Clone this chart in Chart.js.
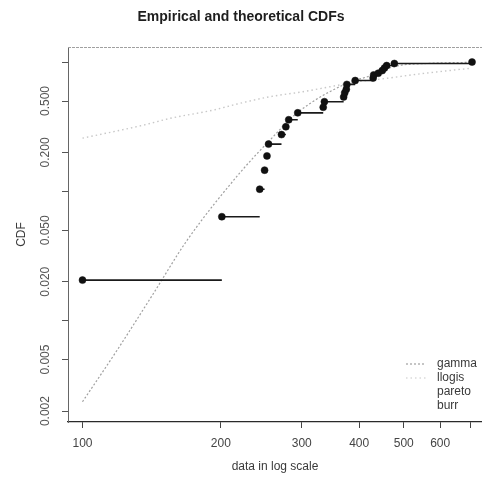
<!DOCTYPE html>
<html>
<head>
<meta charset="utf-8">
<script src="https://cdn.jsdelivr.net/npm/chart.js@4.4.1/dist/chart.umd.min.js"></script>
<style>
  html, body { margin: 0; padding: 0; background: #fff; overflow: hidden; }
  #wrap { width: 482px; height: 486px; }
</style>
</head>
<body>
<div id="wrap"><canvas id="c" width="482" height="486"></canvas></div>
<script>
// Observed data (sorted) and its empirical CDF
const obsX  = [100, 201, 243, 249, 252, 254, 271, 277, 281, 294, 334, 336, 370, 372, 375, 376, 392, 429, 430, 440, 449, 454, 459, 477, 704];
const ecdfY = [0.0206, 0.0637, 0.104, 0.146, 0.188, 0.232, 0.275, 0.316, 0.358, 0.405, 0.447, 0.494, 0.537, 0.578, 0.616, 0.672, 0.72, 0.753, 0.795, 0.82, 0.86, 0.9, 0.94, 0.975, 1.0];

// Fitted CDF curves
const gammaX = [100, 119, 142, 169, 220, 256, 293, 376, 429, 474, 571, 697];
const gammaY = [0.00236, 0.00593, 0.0158, 0.042, 0.139, 0.25, 0.404, 0.685, 0.795, 0.92, 0.978, 0.995];
const llogisX = [100, 136, 155, 193, 217, 256, 302, 346, 392, 459, 534, 610, 697];
const llogisY = [0.258, 0.326, 0.367, 0.426, 0.474, 0.54, 0.59, 0.645, 0.70, 0.749, 0.805, 0.85, 0.895];

// Legend and axis ticks
const legendNames = ['gamma', 'llogis', 'pareto', 'burr'];
const xTicks = [100, 200, 300, 400, 500, 600, 700];
const xTickLabels = ['100', '200', '300', '400', '500', '600', ''];
const yTicks = [0.002, 0.005, 0.01, 0.02, 0.05, 0.1, 0.2, 0.5, 1];
const yTickLabels = ['0.002', '0.005', '', '0.020', '0.050', '', '0.200', '0.500', ''];

const FONT = '"Liberation Sans", Arial, Helvetica, sans-serif';

const pts = (xs, ys) => xs.map((x, i) => ({ x: x, y: ys[i] }));

// ECDF as separate horizontal steps (no verticals)
const steps = [];
for (let i = 0; i < obsX.length - 1; i++) {
  steps.push({ x: obsX[i], y: ecdfY[i] });
  steps.push({ x: obsX[i + 1], y: ecdfY[i] });
  steps.push({ x: obsX[i + 1], y: null });
}

const legendStyles = [
  { color: '#a0a0a0', dash: [2, 2] },
  { color: '#c8c8c8', dash: [1.5, 3] },
  { color: 'rgba(0,0,0,0)', dash: [] },
  { color: 'rgba(0,0,0,0)', dash: [] }
];

// Top frame line and legend drawn over the plot region
const framePlugin = {
  id: 'frame',
  afterDraw(chart) {
    const { ctx, chartArea: a } = chart;
    ctx.save();
    ctx.strokeStyle = '#a0a0a0';
    ctx.lineWidth = 1;
    ctx.setLineDash([3, 1]);
    ctx.beginPath();
    ctx.moveTo(a.left, a.top + 0.5);
    ctx.lineTo(a.right, a.top + 0.5);
    ctx.stroke();
    ctx.setLineDash([]);

    ctx.font = '12px ' + FONT;
    ctx.textBaseline = 'middle';
    ctx.textAlign = 'left';
    const rowY = [364, 378, 392, 406];
    legendNames.forEach((name, i) => {
      const st = legendStyles[i];
      ctx.strokeStyle = st.color;
      ctx.setLineDash(st.dash);
      ctx.lineWidth = 1.2;
      ctx.beginPath();
      ctx.moveTo(406, rowY[i]);
      ctx.lineTo(426, rowY[i]);
      ctx.stroke();
      ctx.fillStyle = '#3a3a3a';
      ctx.fillText(name, 437, rowY[i]);
    });
    ctx.restore();
  }
};

new Chart(document.getElementById('c'), {
  type: 'line',
  data: {
    datasets: [
      {
        label: 'ecdf points',
        data: pts(obsX, ecdfY),
        showLine: false,
        pointRadius: 3.5,
        pointBackgroundColor: '#111',
        pointBorderColor: '#111',
        pointBorderWidth: 0.5
      },
      {
        label: 'ecdf steps',
        data: steps,
        borderColor: '#1a1a1a',
        borderWidth: 1.6,
        pointRadius: 0,
        spanGaps: false
      },
      {
        label: legendNames[0],
        data: pts(gammaX, gammaY),
        borderColor: legendStyles[0].color,
        borderDash: legendStyles[0].dash,
        borderWidth: 1.2,
        pointRadius: 0,
        cubicInterpolationMode: 'monotone'
      },
      {
        label: legendNames[1],
        data: pts(llogisX, llogisY),
        borderColor: legendStyles[1].color,
        borderDash: legendStyles[1].dash,
        borderWidth: 1.4,
        pointRadius: 0,
        cubicInterpolationMode: 'monotone'
      }
    ]
  },
  options: {
    responsive: false,
    animation: false,
    events: [],
    layout: { padding: 0, autoPadding: false },
    plugins: {
      legend: { display: false },
      tooltip: { enabled: false },
      title: {
        display: true,
        text: 'Empirical and theoretical CDFs',
        color: '#1e1e1e',
        font: { family: FONT, size: 14, weight: 'bold', lineHeight: 1.2 },
        padding: { top: 8.6, bottom: 21.6 }
      }
    },
    scales: {
      x: {
        type: 'logarithmic',
        min: 93,
        max: 740,
        afterBuildTicks: s => { s.ticks = xTicks.map(v => ({ value: v })); },
        afterFit: s => { s.height = 64; s.paddingRight = 0; s.paddingLeft = 0; },
        grid: { drawOnChartArea: false, drawTicks: true, tickLength: 6, color: '#444' },
        border: { display: true, color: '#2a2a2a', width: 1.2 },
        ticks: {
          autoSkip: false, maxRotation: 0, minRotation: 0,
          padding: 8.5, color: '#444',
          font: { family: FONT, size: 12 },
          callback: (v) => { const k = xTicks.indexOf(v); return k >= 0 ? xTickLabels[k] : ''; }
        },
        title: {
          display: true, text: 'data in log scale', color: '#3a3a3a',
          font: { family: FONT, size: 12 },
          padding: { top: 0, bottom: 11.8 }
        }
      },
      y: {
        type: 'logarithmic',
        min: 0.001646,
        max: 1.308,
        afterBuildTicks: s => { s.ticks = yTicks.map(v => ({ value: v })); },
        afterFit: s => { s.width = 68; s.paddingTop = 0; s.paddingBottom = 0; },
        grid: { drawOnChartArea: false, drawTicks: true, tickLength: 6, color: '#555' },
        border: { display: true, color: '#666', width: 1, dash: [4, 1] },
        ticks: {
          autoSkip: false, minRotation: 90, maxRotation: 90,
          crossAlign: 'center',
          padding: 1, color: '#555',
          font: { family: FONT, size: 12 },
          callback: (v) => { const k = yTicks.indexOf(v); return k >= 0 ? yTickLabels[k] : ''; }
        },
        title: {
          display: true, text: 'CDF', color: '#3a3a3a',
          font: { family: FONT, size: 12 },
          padding: { top: 14.8, bottom: 0 }
        }
      }
    }
  },
  plugins: [framePlugin]
});
</script>
</body>
</html>
